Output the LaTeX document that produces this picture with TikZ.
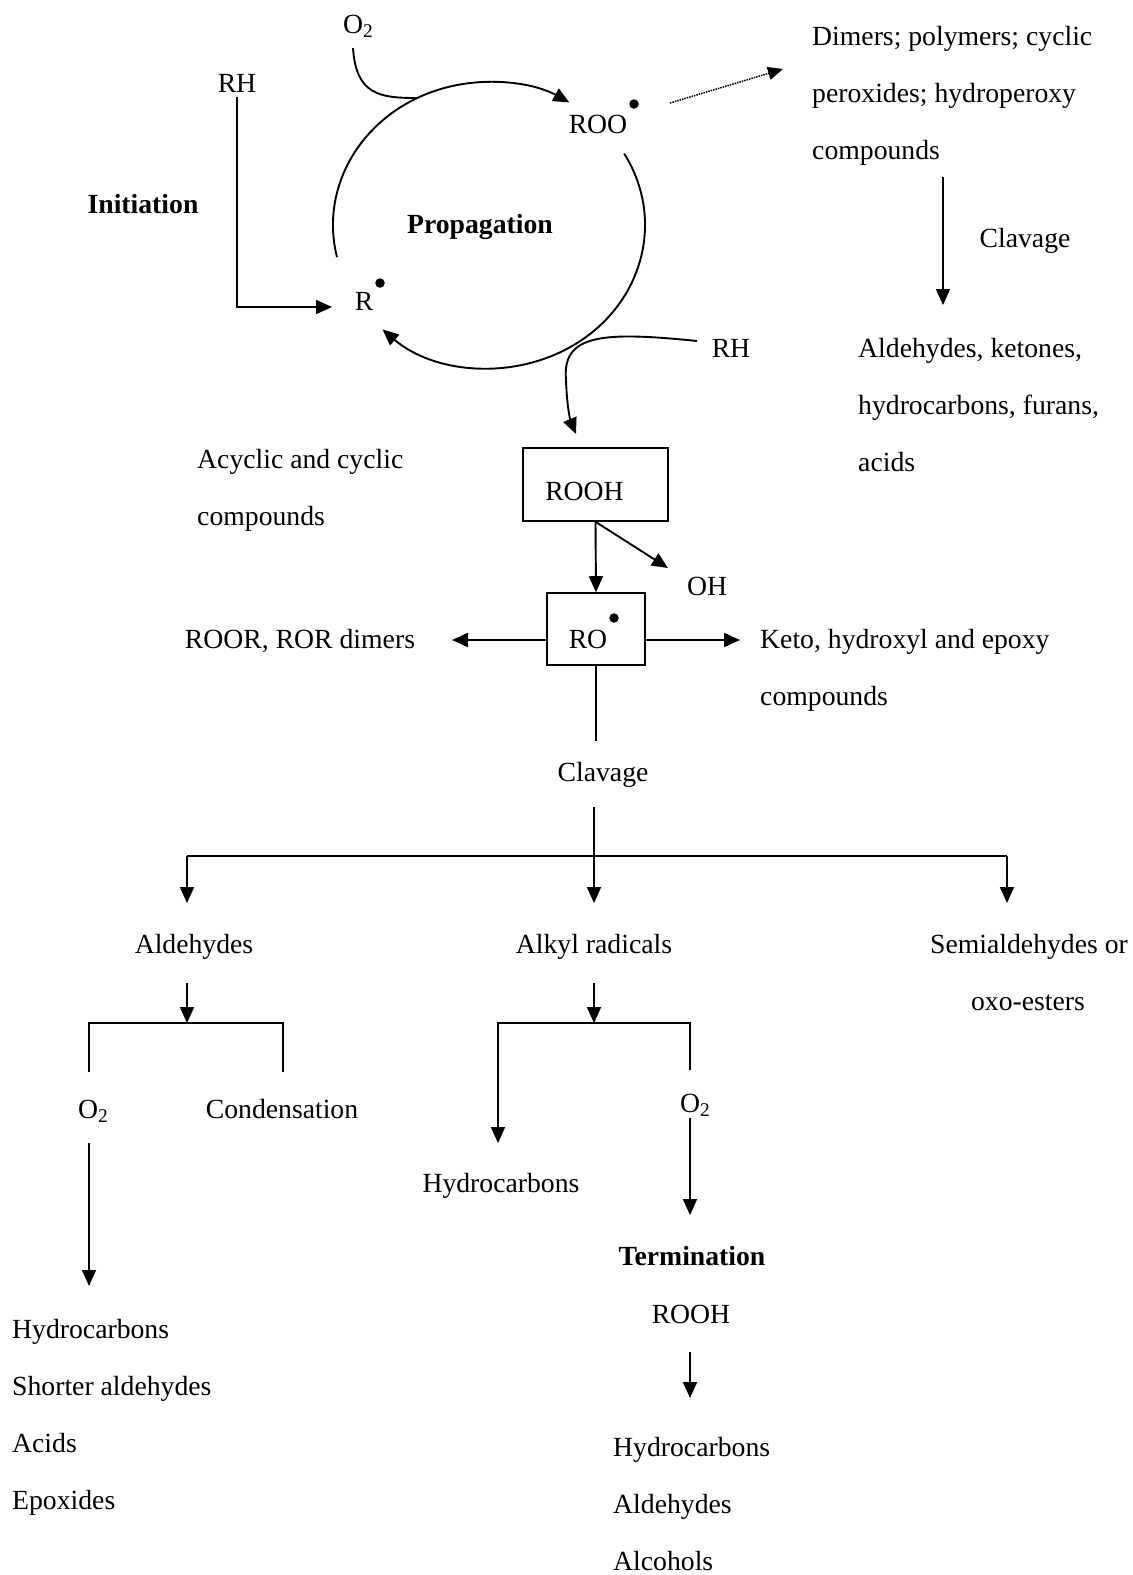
\documentclass[tikz,border=0pt]{standalone}
\usepackage{fontspec}
\setmainfont{Liberation Serif}
\usetikzlibrary{arrows.meta,calc}
\newcommand{\fsz}{\fontsize{27.7}{33}\selectfont}
\begin{document}
\begin{tikzpicture}[x=1pt,y=-1pt,
  lbl/.style={inner sep=0pt,font=\fsz},
  bl/.style={inner sep=0pt,font=\fsz\bfseries},
  box/.style={draw,line width=1.6pt,inner sep=0pt,font=\fsz,text depth=0pt},
  ln/.style={line width=1.9pt},
  arr/.style={ln,-{Triangle[length=16pt,width=14pt]}},
  dotarr/.style={line width=1.5pt,densely dotted,-{Triangle[length=15pt,width=13pt]}},
  rdot/.style={fill,circle,inner sep=0pt,minimum size=9.5pt}]
\useasboundingbox (0,0) rectangle (1133,1575);

% ---- propagation cycle
\coordinate (cc) at (489,225);
\coordinate (a1s) at ($(cc)+(193:156pt and 143pt)$);
\coordinate (a2s) at ($(cc)+(30:156pt and 143pt)$);
\draw[arr] (a1s) arc[start angle=193,end angle=59,x radius=156pt,y radius=143pt];
\draw[arr] (a2s) arc[start angle=30,end angle=-133,x radius=156pt,y radius=143pt];

\node[lbl,anchor=base west] (o2a) at (343,33) {O\textsubscript{2}};
\coordinate (o2s) at (353,48);
\coordinate (o2e) at (417,98);
\draw[ln] (o2s) .. controls (356,95) and (380,98) .. (o2e);

\node[lbl,anchor=base] (rh1) at (237,92) {RH};
\node[lbl,anchor=base] (R) at (364,310) {R};
\node[rdot] (Rd) at (380,283) {};
\coordinate (rin) at (332,307);
\draw[arr] ([yshift=-5pt]rh1.south) |- (rin);

\node[lbl,anchor=base] (ROO) at (598,133) {ROO};
\node[rdot] (ROOd) at (634,104) {};
\coordinate (dts) at (670,103);
\coordinate (dte) at (783,69);
\draw[dotarr] (dts) -- (dte);

\node[bl,anchor=base] (init) at (143,213) {Initiation};
\node[bl,anchor=base] (prop) at (480,233) {Propagation};

% ---- top right
\node[lbl,anchor=base west] (dm1) at (812,45) {Dimers; polymers; cyclic};
\node[lbl,anchor=base west] (dm2) at (812,102) {peroxides; hydroperoxy};
\node[lbl,anchor=base west] (dm3) at (812,159) {compounds};
\coordinate (c1s) at (943,177);
\coordinate (c1e) at (943,305);
\draw[arr] (c1s) -- (c1e);
\node[lbl,anchor=base] (clv1) at (1025,247) {Clavage};
\node[lbl,anchor=base west] (ak1) at (858,357) {Aldehydes, ketones,};
\node[lbl,anchor=base west] (ak2) at (858,414) {hydrocarbons, furans,};
\node[lbl,anchor=base west] (ak3) at (858,471) {acids};

% ---- RH right into ROOH
\node[lbl,anchor=base] (rh2) at (731,357) {RH};
\coordinate (rh2s) at (697,341);
\coordinate (rhm) at (566,380);
\node[box,minimum width=145pt,minimum height=73pt,text height=31pt] (rooh) at (595.5,484.5) {ROOH\hspace{22pt}\null};
\coordinate (rhe) at (576,434);
\draw[arr] (rh2s) .. controls (600,331) and (562,335) .. (rhm) .. controls (567,410) and (571,422) .. (rhe);

\node[lbl,anchor=base west] (acy1) at (197,468) {Acyclic and cyclic};
\node[lbl,anchor=base west] (acy2) at (197,525) {compounds};

% ---- RO box
\node[box,minimum width=98pt,minimum height=72pt,text height=38pt] (ro) at (596,629) {RO\hspace{16pt}\null};
\node[rdot] (rod) at (614,618) {};
\draw[arr] (rooh.south) -- (ro.north);
\coordinate (ohtip) at (668,568);
\draw[arr] (rooh.south) -- (ohtip);
\node[lbl,anchor=base] (oh) at (707,595) {OH};

\coordinate (lt) at (452,640);
\coordinate (rt) at (740,640);
\draw[arr] ([yshift=-11pt]ro.west) -- (lt);
\draw[arr] ([yshift=-11pt]ro.east) -- (rt);
\node[lbl,anchor=base] (roor) at (300,648) {ROOR, ROR dimers};
\node[lbl,anchor=base west] (keto1) at (760,648) {Keto, hydroxyl and epoxy};
\node[lbl,anchor=base west] (keto2) at (760,705) {compounds};

\coordinate (rob) at (596,741);
\draw[ln] (ro.south) -- (rob);
\node[lbl,anchor=base] (clv2) at (603,781) {Clavage};

% ---- three-way split
\coordinate (cvs) at (594,807);
\coordinate (hl) at (187,856);
\coordinate (hr) at (1007,856);
\coordinate (t1) at (187,903);
\coordinate (t2) at (594,903);
\coordinate (t3) at (1007,903);
\draw[arr] (cvs) -- (t2);
\draw[ln] (hl) -- (hr);
\draw[arr] (hl) -- (t1);
\draw[arr] (hr) -- (t3);

\node[lbl,anchor=base] (ald) at (194,953) {Aldehydes};
\node[lbl,anchor=base] (alk) at (594,953) {Alkyl radicals};
\node[lbl,anchor=base] (semi1) at (1029,953) {Semialdehydes or};
\node[lbl,anchor=base] (semi2) at (1028,1010) {oxo-esters};

% ---- aldehydes branch
\coordinate (a1a) at (187,983);
\coordinate (a1b) at (187,1023);
\draw[arr] (a1a) -- (a1b);
\coordinate (b1a) at (89,1072);
\coordinate (b1b) at (283,1072);
\draw[ln] (b1a) -- ++(0,-49) -| (b1b);
\node[lbl,anchor=base west] (o2b) at (78,1118) {O\textsubscript{2}};
\node[lbl,anchor=base] (cond) at (282,1118) {Condensation};
\coordinate (o2bs) at (89,1143);
\coordinate (o2be) at (89,1286);
\draw[arr] (o2bs) -- (o2be);
\node[lbl,anchor=base west] (l1) at (12,1338) {Hydrocarbons};
\node[lbl,anchor=base west] (l2) at (12,1395) {Shorter aldehydes};
\node[lbl,anchor=base west] (l3) at (12,1452) {Acids};
\node[lbl,anchor=base west] (l4) at (12,1509) {Epoxides};

% ---- alkyl radicals branch
\coordinate (a2a) at (594,983);
\coordinate (a2b) at (594,1023);
\draw[arr] (a2a) -- (a2b);
\coordinate (b2r) at (690,1070);
\coordinate (b2l) at (498,1143);
\draw[arr] (b2r) -- ++(0,-47) -| (b2l);
\node[lbl,anchor=base west] (o2c) at (680,1112) {O\textsubscript{2}};
\coordinate (o2cs) at (690,1118);
\coordinate (o2ce) at (690,1215);
\draw[arr] (o2cs) -- (o2ce);
\node[lbl,anchor=base] (hc) at (501,1192) {Hydrocarbons};
\node[bl,anchor=base] (term) at (692,1265) {Termination};
\node[lbl,anchor=base] (rooh2) at (691,1323) {ROOH};
\coordinate (r2s) at (690,1352);
\coordinate (r2e) at (690,1398);
\draw[arr] (r2s) -- (r2e);
\node[lbl,anchor=base west] (m1) at (613,1456) {Hydrocarbons};
\node[lbl,anchor=base west] (m2) at (613,1513) {Aldehydes};
\node[lbl,anchor=base west] (m3) at (613,1570) {Alcohols};
\end{tikzpicture}
\end{document}
